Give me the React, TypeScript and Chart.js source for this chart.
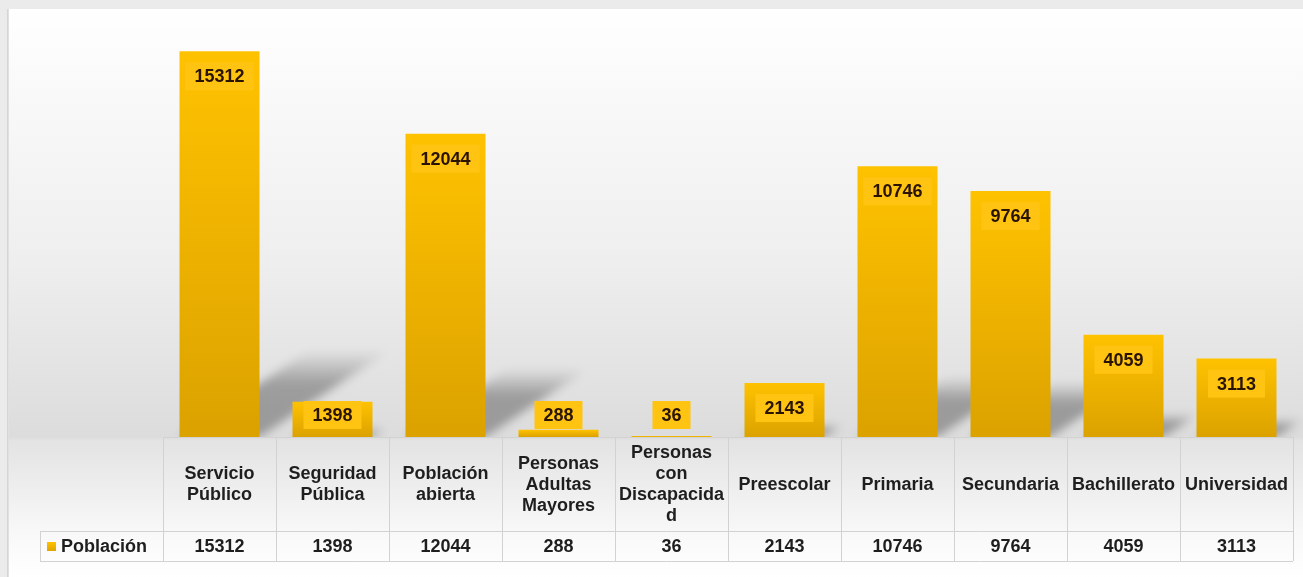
import React, { useEffect, useRef } from 'react';
import { Chart, registerables } from 'chart.js';

Chart.register(...registerables);

// ---- Data ----
const categories: string[][] = [
  ['Servicio', 'Público'],
  ['Seguridad', 'Pública'],
  ['Población', 'abierta'],
  ['Personas', 'Adultas', 'Mayores'],
  ['Personas', 'con', 'Discapacida', 'd'],
  ['Preescolar'],
  ['Primaria'],
  ['Secundaria'],
  ['Bachillerato'],
  ['Universidad'],
];
const seriesName = 'Población';
const poblacion: number[] = [15312, 1398, 12044, 288, 36, 2143, 10746, 9764, 4059, 3113];
const yMax = 16000;

const FONT = 'bold 18px "Liberation Sans", Arial, sans-serif';
const TEXT = '#1e1e1e';
const LABEL_TEXT = '#2a1400';
const GRID = '#d2d2d2';

const backgroundPlugin = {
  id: 'bgPlugin',
  beforeDraw(chart: any) {
    const { ctx, width, height } = chart;
    ctx.save();
    ctx.fillStyle = '#ebebeb';
    ctx.fillRect(0, 0, width, height);
    const g = ctx.createLinearGradient(0, 8, 0, height);
    g.addColorStop(0, '#ffffff');
    g.addColorStop(0.1, '#fbfbfb');
    g.addColorStop(0.45, '#eeeeee');
    g.addColorStop(0.754, '#dcdcdc');
    g.addColorStop(0.76, '#e3e3e3');
    g.addColorStop(0.92, '#f8f8f8');
    g.addColorStop(1, '#ffffff');
    ctx.fillStyle = g;
    ctx.fillRect(9, 9, width - 9, height - 9);
    ctx.fillStyle = '#d6d6d6';
    ctx.fillRect(7, 9, 1.5, height - 9);
    ctx.restore();
  },
};

const shadowPlugin = {
  id: 'shadowPlugin',
  beforeDatasetsDraw(chart: any) {
    const { ctx, chartArea } = chart;
    const meta = chart.getDatasetMeta(0);
    ctx.save();
    ctx.beginPath();
    ctx.rect(chartArea.left, chartArea.top, chartArea.right - chartArea.left + 20, chartArea.bottom - chartArea.top);
    ctx.clip();
    ctx.filter = 'blur(5px)';
    meta.data.forEach((bar: any) => {
      const { x, y, base, width } = bar.getProps(['x', 'y', 'base', 'width'], true);
      const h = base - y;
      const L = h * 0.225;
      if (L < 2) return;
      const dx = L * 1.5;
      const x0 = x - width / 2;
      const x1 = x + width / 2;
      const g = ctx.createLinearGradient(0, base, 0, base - L);
      g.addColorStop(0, 'rgba(0,0,0,0.30)');
      g.addColorStop(0.6, 'rgba(0,0,0,0.30)');
      g.addColorStop(1, 'rgba(0,0,0,0.0)');
      ctx.fillStyle = g;
      ctx.beginPath();
      ctx.moveTo(x0, base);
      ctx.lineTo(x1, base);
      ctx.lineTo(x1 + dx, base - L);
      ctx.lineTo(x0 + dx, base - L);
      ctx.closePath();
      ctx.fill();
    });
    ctx.restore();
  },
};

const labelTablePlugin = {
  id: 'labelTablePlugin',
  afterDatasetsDraw(chart: any) {
    const { ctx, chartArea } = chart;
    const meta = chart.getDatasetMeta(0);
    const xScale = chart.scales.x;
    const n = categories.length;
    const colW = (chartArea.right - chartArea.left) / n;
    ctx.save();
    ctx.font = FONT;
    ctx.textAlign = 'center';
    ctx.textBaseline = 'middle';

    // value labels on bars
    meta.data.forEach((bar: any, i: number) => {
      const { x, y, base } = bar.getProps(['x', 'y', 'base'], true);
      const txt = String(poblacion[i]);
      const tw = ctx.measureText(txt).width;
      const cy = Math.min(y + 25, base - 22);
      const bw = tw + 18;
      const bh = 28;
      ctx.fillStyle = '#FFC412';
      ctx.fillRect(x - bw / 2, cy - bh / 2, bw, bh);
      ctx.fillStyle = LABEL_TEXT;
      ctx.fillText(txt, x, cy + 1);
    });

    // table
    const top = chartArea.bottom;
    const rowSplit = top + 94;
    const bottom = rowSplit + 30;
    const tableLeft = 40;
    ctx.strokeStyle = GRID;
    ctx.lineWidth = 1;
    ctx.beginPath();
    ctx.moveTo(chartArea.left, top + 0.5);
    ctx.lineTo(chartArea.right, top + 0.5);
    ctx.moveTo(tableLeft, rowSplit + 0.5);
    ctx.lineTo(chartArea.right, rowSplit + 0.5);
    ctx.moveTo(tableLeft, bottom + 0.5);
    ctx.lineTo(chartArea.right, bottom + 0.5);
    ctx.moveTo(tableLeft + 0.5, rowSplit);
    ctx.lineTo(tableLeft + 0.5, bottom);
    for (let i = 0; i <= n; i++) {
      const bx = Math.round(chartArea.left + i * colW) + 0.5;
      ctx.moveTo(bx, top);
      ctx.lineTo(bx, bottom);
    }
    ctx.stroke();

    const lineH = 21;
    const headerMid = (top + rowSplit) / 2 + 1;
    const valueMid = (rowSplit + bottom) / 2 + 1;
    ctx.fillStyle = TEXT;
    categories.forEach((lines, i) => {
      const cx = xScale.getPixelForValue(i);
      const startY = headerMid - ((lines.length - 1) * lineH) / 2;
      lines.forEach((ln, j) => {
        ctx.fillText(ln, cx, startY + j * lineH);
      });
      ctx.fillText(String(poblacion[i]), cx, valueMid);
    });

    // legend cell
    const sq = ctx.createLinearGradient(0, valueMid - 5, 0, valueMid + 5);
    sq.addColorStop(0, '#FFC200');
    sq.addColorStop(1, '#DCA200');
    ctx.fillStyle = sq;
    ctx.fillRect(47, valueMid - 5, 9, 9);
    ctx.fillStyle = TEXT;
    ctx.textAlign = 'left';
    ctx.fillText(seriesName, 61, valueMid);
    ctx.restore();
  },
};

export default function App() {
  const ref = useRef<HTMLCanvasElement>(null);
  useEffect(() => {
    const chart = new Chart(ref.current as HTMLCanvasElement, {
      type: 'bar',
      data: {
        labels: categories.map((c) => c.join(' ')),
        datasets: [
          {
            label: seriesName,
            data: poblacion,
            borderWidth: 0,
            barPercentage: 80 / 113,
            categoryPercentage: 1,
            backgroundColor: (c: any) => {
              const chart = c.chart;
              const ys = chart.scales && chart.scales.y;
              if (!ys || c.raw === undefined) return '#F0B400';
              const t = ys.getPixelForValue(c.raw);
              const b = ys.getPixelForValue(0);
              if (!isFinite(t) || !isFinite(b) || b - t < 1) return '#F0B400';
              const g = chart.ctx.createLinearGradient(0, t, 0, b);
              g.addColorStop(0, '#FFC200');
              g.addColorStop(1, '#DBA200');
              return g;
            },
          },
        ],
      },
      options: {
        responsive: false,
        devicePixelRatio: 1,
        animation: false,
        layout: { padding: { left: 163, right: 10, top: 34, bottom: 140 } },
        scales: {
          x: { display: false, offset: true },
          y: { display: false, min: 0, max: yMax },
        },
        plugins: {
          legend: { display: false },
          tooltip: { enabled: false },
        },
      },
      plugins: [backgroundPlugin, shadowPlugin, labelTablePlugin],
    } as any);
    return () => chart.destroy();
  }, []);
  return (
    <div style={{ position: 'fixed', left: 0, top: 0, width: 1303, height: 577 }}>
      <canvas ref={ref} width={1303} height={577} style={{ display: 'block' }} />
    </div>
  );
}
